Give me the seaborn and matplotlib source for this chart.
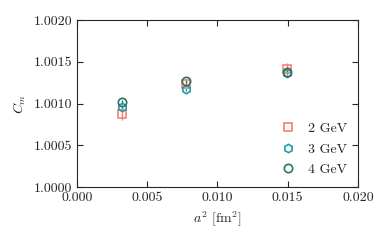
import numpy as np
import pandas as pd
import seaborn as sns
import matplotlib.pyplot as plt
from matplotlib.lines import Line2D

a2 = [0.0032, 0.00775, 0.01495]
labels = ["2 GeV", "3 GeV", "4 GeV"]
cm_2gev = [1.00088, 1.00123, 1.00141]
err_2gev = [0.00008, 0.00003, 0.00007]
cm_3gev = [1.000958, 1.00117, 1.00137]
err_3gev = [0.00003, 0.00002, 0.00002]
cm_4gev = [1.00102, 1.00127, 1.00138]
err_4gev = [0.00002, 0.00002, 0.00002]

colors = ["#fa8072", "#1a9fa6", "#2e7163"]
markers = ["s", "h", "o"]

sns.set_style("ticks")
plt.rcParams['font.family'] = ['cmr10', 'DejaVu Serif']
plt.rcParams['mathtext.fontset'] = 'cm'
plt.rcParams['axes.formatter.use_mathtext'] = True

fig, ax = plt.subplots(figsize=(3.9, 2.41), dpi=100)
series = [(cm_2gev, err_2gev), (cm_3gev, err_3gev), (cm_4gev, err_4gev)]
handles = []
for (vals, errs), lab, col, mk in zip(series, labels, colors, markers):
  ax.errorbar(a2, vals, yerr=errs, fmt=mk, mfc='none', mec=col, ecolor=col,
              ms=6, mew=1.2, elinewidth=1.0, capsize=0)
  handles.append(Line2D([], [], ls='none', marker=mk, mfc='none', mec=col,
                        ms=6, mew=1.2, label=lab))

ax.set_xlim(0, 0.02)
ax.set_ylim(1.0, 1.002)
ax.set_xticks([0, 0.005, 0.01, 0.015, 0.02])
ax.set_xticklabels(["0.000", "0.005", "0.010", "0.015", "0.020"])
ax.set_yticks([1.0, 1.0005, 1.001, 1.0015, 1.002])
ax.set_yticklabels(["1.0000", "1.0005", "1.0010", "1.0015", "1.0020"])
ax.tick_params(direction='in', top=True, right=True, labelsize=10, length=4, width=0.8)
ax.set_xlabel(r"$a^2$ [fm$^2$]", fontsize=10)
ax.set_ylabel(r"$C_m$", fontsize=10)
for sp in ax.spines.values():
  sp.set_linewidth(0.8)

ax.legend(handles=handles, loc='lower right', frameon=False, fontsize=10,
          handletextpad=0.4, borderaxespad=0.4, labelspacing=0.55)
fig.subplots_adjust(left=0.197, right=0.918, top=0.917, bottom=0.224)
fig.savefig("out.png", dpi=100)
